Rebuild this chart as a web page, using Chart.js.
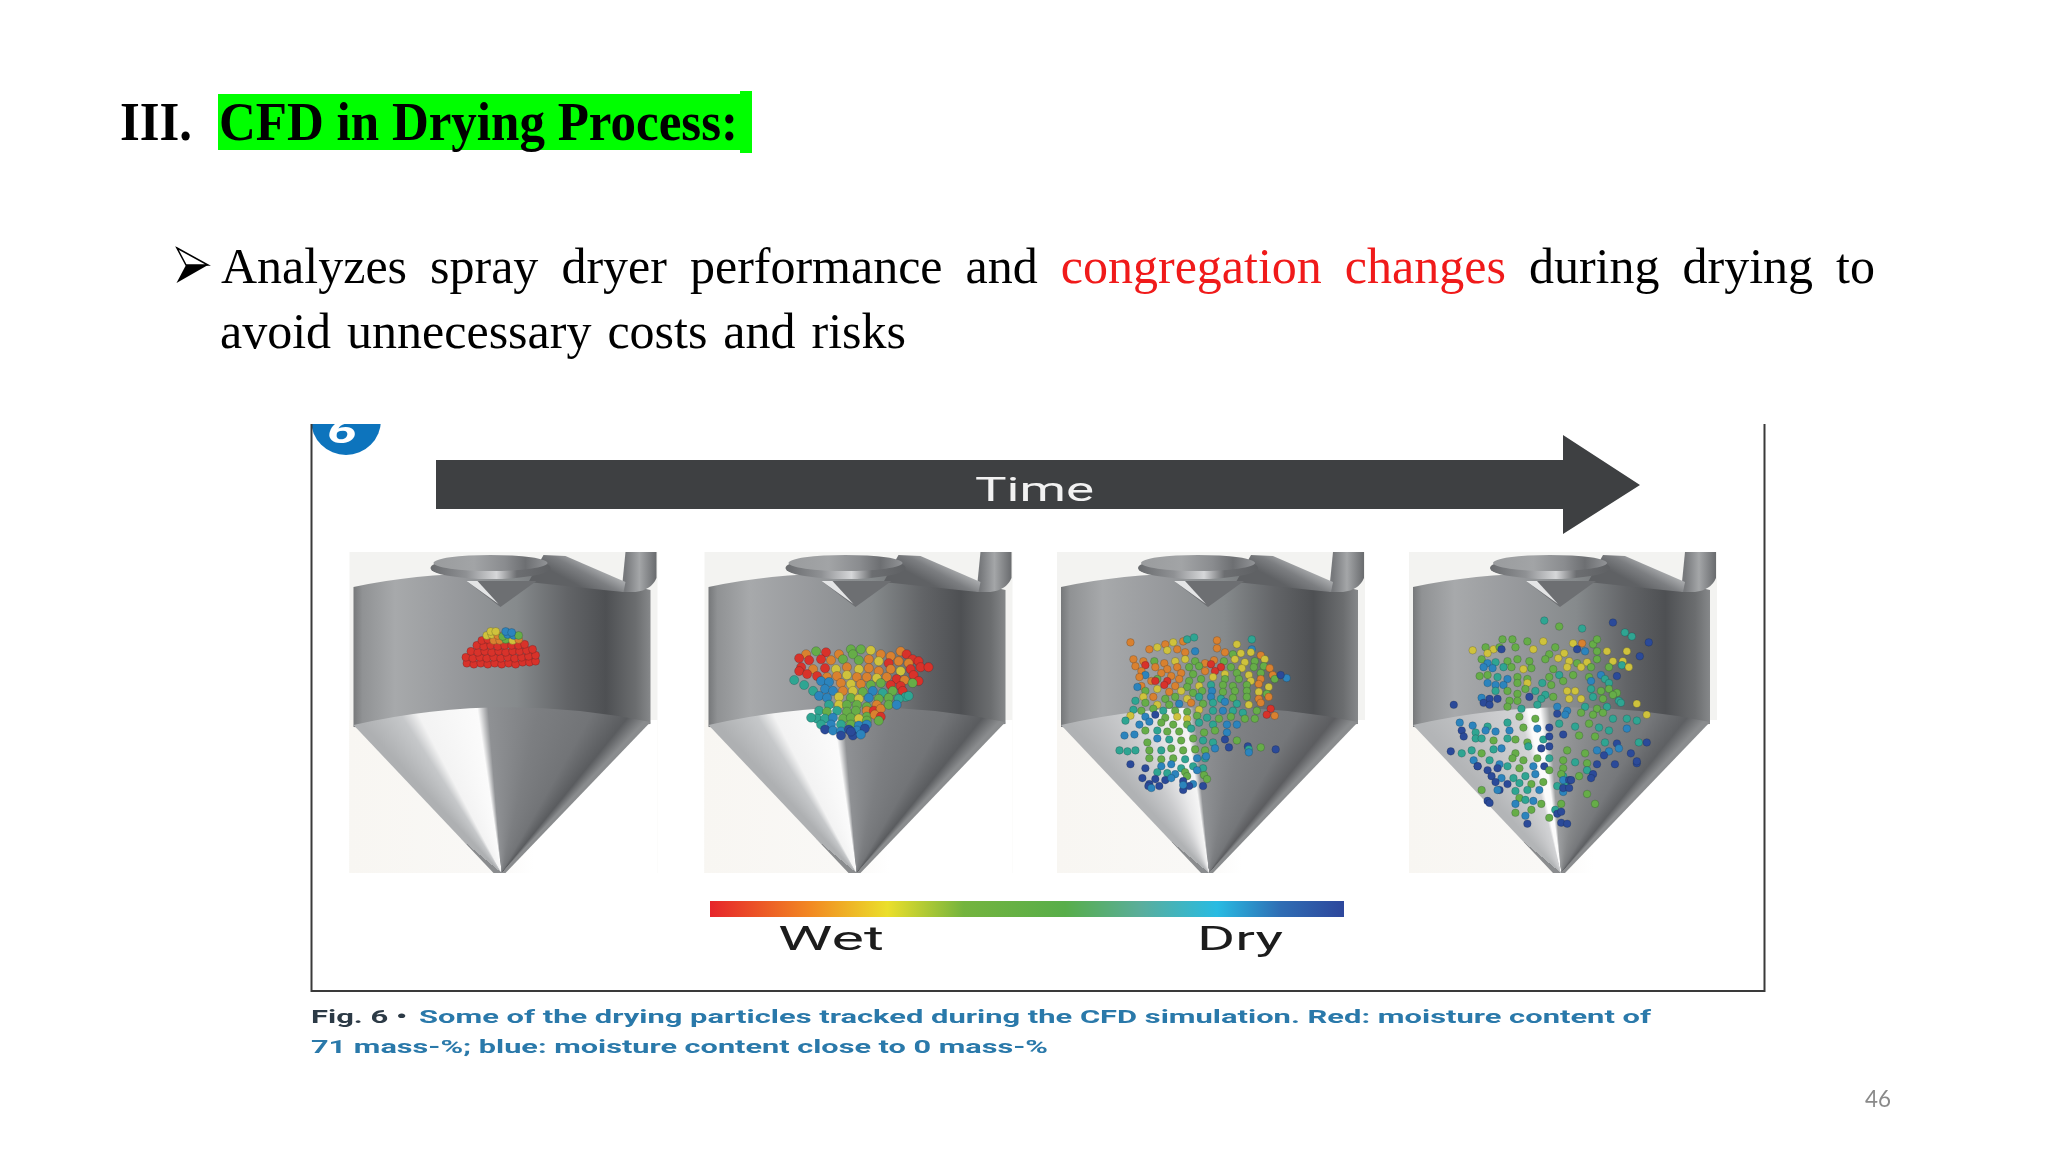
<!DOCTYPE html>
<html>
<head>
<meta charset="utf-8">
<title>CFD in Drying Process</title>
<script src="https://cdn.jsdelivr.net/npm/chart.js@4/dist/chart.umd.js"></script>
<style>
  html, body { margin: 0; padding: 0; background: #fff; }
  canvas { display: block; }
</style>
</head>
<body>
<canvas id="slide" width="2048" height="1152"></canvas>
<script>
// moisture classes, wet to dry
const moistureNames = ["red", "orange", "yellow", "green", "teal", "blue", "navy"];
const moistureColors = ["#d8322a", "#d9812f", "#cfc23c", "#66ad48", "#2fa592", "#2c84bd", "#2b4a99"];

// particles: [x, y, moisture class]
const particlesFirst = [
  [464,664,0],[471,665,0],[478,664,0],[485,665,0],[492,664,0],[499,665,0],[506,664,0],[513,665,0],[520,663,0],[527,663,0],[533,662,0],
  [463,658,0],[470,659,0],[477,658,0],[484,659,0],[491,658,0],[498,659,0],[505,658,0],[512,659,0],[519,658,0],[526,657,0],[533,656,0],
  [468,652,0],[475,653,0],[482,652,0],[489,653,0],[496,652,0],[503,653,0],[510,652,0],[517,652,0],[524,651,0],[530,650,0],
  [474,646,0],[481,647,0],[488,646,0],[495,647,0],[502,646,0],[509,646,0],[516,646,0],[522,645,0],
  [479,641,0],[485,640,0],[491,641,1],[497,641,1],[503,640,3],[510,641,2],[516,640,1],
  [484,636,2],[489,635,2],[495,636,1],[500,637,3],[505,635,5],[511,636,5],[516,636,3],
  [488,632,2],[493,632,2],[503,632,5],[509,633,5]
];
const particlesSecond = [
  [805,655,1],[815,652,3],[825,653,0],[838,655,1],[850,650,3],[860,650,3],[870,651,2],[880,655,1],[890,657,1],[900,652,1],[906,655,0],[912,660,0],
  [798,659,0],[808,661,0],[820,660,0],[830,661,1],[842,660,3],[852,655,3],[858,661,3],[868,660,1],[878,662,2],[888,664,0],[898,662,1],[908,664,1],[918,662,0],
  [800,668,0],[812,670,1],[824,669,0],[835,670,2],[846,668,1],[858,670,2],[868,669,1],[878,672,1],[890,670,1],[900,672,2],[910,670,0],[920,668,0],[928,668,0],[913,676,0],
  [798,672,0],[806,675,0],[816,677,0],[826,678,1],[836,677,1],[846,676,2],[856,678,1],[866,678,1],[876,679,2],[886,678,1],[896,680,0],[904,681,1],[918,682,0],
  [820,682,5],[828,683,5],[840,684,1],[850,685,2],[860,685,1],[870,686,3],[880,684,3],[890,686,0],[900,687,0],[912,684,3],
  [793,681,4],[803,686,4],[812,692,4],[824,690,5],[832,692,5],[842,692,1],[852,692,2],[862,693,3],[872,692,5],[882,694,4],[892,692,3],[902,692,0],[905,698,4],
  [818,697,5],[826,699,5],[838,698,2],[850,699,3],[858,700,2],[868,699,5],[878,700,3],[888,699,3],[898,700,4],[908,697,4],
  [828,706,4],[838,706,2],[846,706,3],[856,706,3],[866,708,3],[876,706,1],[866,712,1],[873,712,0],[880,710,1],[888,706,3],[896,706,5],
  [818,712,4],[826,713,3],[836,712,4],[846,713,3],[855,712,3],[866,718,3],[874,716,1],[880,718,0],
  [816,720,4],[824,720,4],[832,719,5],[842,720,3],[850,719,3],[858,720,2],[866,722,3],[878,722,3],
  [810,719,4],[820,726,4],[830,726,5],[840,726,4],[850,726,3],[858,727,5],[866,726,5],
  [824,731,6],[832,732,5],[840,733,5],[848,731,6],[856,732,5],[864,730,6],[840,737,6],[852,737,6],[860,736,5],[850,733,6]
];
const particlesThird = [
  [1131,643,1],[1166,645,1],[1174,643,2],[1184,642,1],[1188,640,4],[1195,638,4],[1218,641,1],[1238,645,2],[1253,640,4],[1253,650,5],
  [1150,650,1],[1158,648,2],[1168,651,2],[1178,650,1],[1186,653,1],[1218,649,1],[1226,653,1],[1234,655,3],[1242,654,2],[1252,653,2],[1262,656,1],[1196,652,5],
  [1134,660,1],[1144,662,1],[1155,662,3],[1165,664,1],[1176,662,2],[1186,660,2],[1196,662,3],[1206,664,1],[1215,661,1],[1225,662,3],[1236,660,2],[1246,663,2],[1256,662,3],[1266,660,2],
  [1136,667,1],[1146,666,0],[1156,668,1],[1168,670,1],[1178,668,1],[1190,668,3],[1200,667,3],[1212,665,0],[1222,668,0],[1232,668,3],[1243,669,2],[1255,668,3],[1265,667,3],[1271,669,1],
  [1142,672,1],[1146,676,5],[1162,674,1],[1172,677,1],[1182,674,1],[1194,675,3],[1206,672,1],[1216,672,0],[1226,675,2],[1238,674,3],[1250,676,2],[1262,674,3],[1274,676,1],
  [1140,678,1],[1158,680,3],[1168,682,0],[1180,680,1],[1190,682,3],[1202,680,3],[1214,678,2],[1226,680,3],[1240,680,3],[1252,682,2],[1262,680,1],[1276,680,3],[1288,679,5],[1282,676,6],
  [1142,687,1],[1152,682,1],[1156,682,0],[1165,686,0],[1176,687,1],[1188,688,3],[1200,687,2],[1212,686,4],[1224,686,3],[1234,687,3],[1248,686,3],[1260,685,1],[1270,688,2],
  [1138,688,5],[1146,692,3],[1158,690,2],[1170,693,1],[1182,692,2],[1194,694,3],[1203,692,3],[1213,692,5],[1224,693,3],[1236,692,3],[1248,692,3],[1260,693,2],[1268,695,3],
  [1144,698,2],[1154,698,1],[1166,700,3],[1176,698,3],[1188,700,2],[1200,698,4],[1212,698,5],[1222,700,4],[1234,699,3],[1248,698,3],[1260,700,1],[1270,698,1],
  [1136,702,4],[1146,704,3],[1158,706,2],[1170,706,3],[1180,705,5],[1192,704,1],[1204,705,3],[1214,704,4],[1226,703,5],[1238,705,4],[1250,706,2],[1262,704,1],[1272,710,0],
  [1134,711,4],[1142,712,3],[1154,710,3],[1164,712,4],[1176,712,3],[1188,713,3],[1200,711,2],[1214,712,4],[1224,712,5],[1234,712,4],[1244,714,4],[1258,712,3],[1268,716,0],[1276,717,1],
  [1131,717,2],[1146,718,5],[1156,716,6],[1166,719,3],[1178,718,2],[1188,720,2],[1198,717,3],[1208,719,4],[1220,720,3],[1232,718,3],[1246,720,3],[1256,720,3],
  [1126,722,4],[1140,726,5],[1150,723,5],[1162,724,3],[1174,726,3],[1188,726,3],[1200,724,4],[1214,726,4],[1228,726,5],[1238,726,5],
  [1125,737,5],[1135,736,5],[1146,732,3],[1158,732,4],[1168,733,3],[1180,733,3],[1192,730,4],[1205,734,3],[1216,732,3],[1228,734,5],
  [1158,740,5],[1148,744,3],[1170,741,4],[1182,742,3],[1194,740,3],[1204,742,4],[1214,744,4],[1226,741,6],[1238,742,3],[1249,748,6],
  [1120,752,4],[1128,753,4],[1136,752,4],[1150,752,3],[1162,752,4],[1172,750,3],[1184,752,3],[1196,751,3],[1206,752,3],[1216,750,5],[1206,760,4],[1250,751,4],[1262,749,3],[1250,754,5],
  [1150,760,3],[1162,761,3],[1174,760,3],[1186,761,4],[1198,760,5],[1207,758,5],[1230,749,6],[1277,751,6],
  [1131,766,6],[1146,770,6],[1162,768,5],[1172,766,5],[1182,770,4],[1194,768,4],[1204,770,4],
  [1158,774,4],[1168,775,4],[1176,776,5],[1186,774,3],[1198,772,5],[1205,777,3],[1188,778,3],
  [1143,780,6],[1150,786,6],[1156,781,6],[1166,782,6],[1172,780,5],[1184,783,6],[1194,786,5],[1208,781,3],[1184,792,6],[1190,788,6],[1184,787,5],
  [1149,788,6],[1152,790,5],[1160,788,6],[1204,788,6]
];
const particlesFourth = [
  [1547,621,4],[1562,627,3],[1585,629,4],[1616,623,6],[1628,633,4],[1635,637,4],[1652,643,6],[1643,657,6],
  [1475,651,2],[1488,648,3],[1496,650,2],[1505,640,3],[1515,640,3],[1530,642,3],[1546,642,2],[1558,648,3],[1576,644,2],[1585,644,1],[1596,645,3],[1600,640,3],
  [1490,654,2],[1502,648,3],[1504,650,6],[1518,648,3],[1536,650,2],[1552,655,3],[1567,654,2],[1580,650,6],[1588,652,5],[1600,652,3],[1610,652,2],[1630,652,2],
  [1484,660,3],[1490,664,5],[1498,663,4],[1510,662,3],[1520,660,3],[1532,662,3],[1548,660,3],[1561,659,2],[1572,662,2],[1580,664,3],[1590,663,2],[1600,660,3],[1616,662,2],[1626,662,2],
  [1486,668,5],[1495,669,5],[1506,668,4],[1514,668,3],[1526,670,2],[1534,669,3],[1556,670,3],[1570,668,2],[1584,668,2],[1594,668,3],[1612,668,3],[1625,666,4],[1632,668,2],
  [1482,677,3],[1490,676,3],[1500,678,4],[1510,680,5],[1520,678,3],[1530,680,3],[1552,678,3],[1562,676,4],[1576,676,3],[1592,678,3],[1604,676,5],[1620,677,6],
  [1490,684,5],[1498,686,5],[1506,686,5],[1520,684,3],[1530,684,2],[1545,684,4],[1554,686,3],[1566,682,3],[1594,682,5],[1608,680,4],[1612,684,4],
  [1498,692,4],[1510,692,3],[1520,695,3],[1528,690,3],[1538,692,4],[1548,696,4],[1570,692,2],[1578,692,2],[1594,690,4],[1604,692,3],[1612,690,3],[1620,694,3],
  [1484,699,5],[1492,700,6],[1500,700,6],[1512,702,3],[1520,702,3],[1532,698,6],[1544,700,4],[1556,698,3],[1572,700,2],[1584,700,2],[1596,698,4],[1606,700,3],[1616,696,3],[1622,702,4],
  [1456,706,6],[1486,704,6],[1492,706,6],[1510,708,3],[1524,710,4],[1540,706,4],[1560,708,5],[1570,712,5],[1588,708,4],[1600,710,3],[1610,708,4],[1624,704,4],[1640,705,2],
  [1462,724,5],[1475,727,5],[1490,728,4],[1510,724,4],[1522,718,3],[1538,720,3],[1560,715,6],[1568,716,5],[1584,714,3],[1596,716,3],[1606,714,3],[1616,720,4],[1630,720,4],[1640,722,4],[1650,716,2],
  [1464,732,6],[1478,734,4],[1488,732,5],[1498,733,5],[1512,732,5],[1526,729,3],[1540,730,5],[1552,729,6],[1562,725,4],[1578,728,4],[1592,725,3],[1602,729,4],[1612,732,4],[1630,730,5],
  [1466,738,6],[1478,740,4],[1484,740,4],[1496,742,3],[1510,740,4],[1518,741,3],[1530,744,3],[1546,741,4],[1552,738,6],[1566,736,6],[1582,737,3],[1598,738,3],[1608,744,4],[1620,745,6],[1642,744,4],[1650,744,6],
  [1453,753,6],[1464,755,4],[1474,752,4],[1484,755,3],[1496,751,4],[1504,750,5],[1518,755,3],[1531,748,4],[1544,750,6],[1552,748,6],[1570,752,3],[1588,755,3],[1600,752,5],[1612,753,5],[1622,750,5],
  [1476,762,5],[1480,768,6],[1492,762,4],[1502,766,5],[1515,760,3],[1526,762,3],[1540,760,3],[1552,760,4],[1566,762,3],[1578,764,4],[1590,765,3],[1607,757,6],[1618,766,6],[1634,755,6],[1640,765,6],
  [1480,768,6],[1490,772,6],[1500,770,6],[1510,768,4],[1522,770,3],[1536,768,5],[1547,768,6],[1566,770,3],[1590,772,4],[1600,766,6],[1640,763,6],
  [1494,778,6],[1504,780,5],[1516,780,4],[1528,778,4],[1538,776,5],[1552,772,3],[1566,778,4],[1582,778,3],[1596,776,6],[1564,776,3],
  [1498,784,6],[1510,786,6],[1522,785,4],[1534,786,3],[1546,784,3],[1560,788,4],[1568,786,4],[1566,782,5],[1594,780,6],[1572,782,6],
  [1484,792,3],[1502,792,6],[1518,793,4],[1530,792,4],[1542,792,5],[1566,794,5],[1574,782,6],[1566,790,6],[1572,790,6],[1590,796,3],
  [1500,792,5],[1522,800,3],[1518,806,5],[1528,802,4],[1536,803,5],[1490,803,6],[1544,806,3],[1558,812,4],[1564,806,3],[1598,806,3],
  [1492,805,6],[1534,812,3],[1528,818,5],[1518,815,3],[1530,826,6],[1560,816,6],[1564,814,6],[1564,825,6],[1570,826,6],[1552,820,3]
];

// wet to dry scale under the dryers
const scaleColors = ["#e6252b", "#f28a22", "#ebdf2b", "#74b43e", "#58ae4a", "#5aae9c", "#28bbe2", "#2f6db4", "#2e479c"];
const scaleStops = [0, 0.16, 0.28, 0.4, 0.56, 0.68, 0.8, 0.9, 1];

// slide text
const headingNumber = "III.";
const headingText = "CFD in Drying Process:";
const bulletFirstLine = [
  ["Analyzes", "black"], ["spray", "black"], ["dryer", "black"], ["performance", "black"], ["and", "black"],
  ["congregation", "#f01a1a"], ["changes", "#f01a1a"],
  ["during", "black"], ["drying", "black"], ["to", "black"]
];
const bulletSecondLine = [
  ["avoid", "black"], ["unnecessary", "black"], ["costs", "black"], ["and", "black"], ["risks", "black"]
];
const captionLead = "Fig. 6 \u2022";
const captionFirstLine = "Some of the drying particles tracked during the CFD simulation. Red: moisture content of";
const captionSecondLine = "71 mass-%; blue: moisture content close to 0 mass-%";
const pageNumber = "46";

function fitText(ctx, str, x, baseline, font, color, width) {
  ctx.save();
  ctx.font = font;
  ctx.fillStyle = color;
  ctx.textBaseline = "alphabetic";
  let natural = ctx.measureText(str).width;
  ctx.translate(x, baseline);
  ctx.scale(width / natural, 1);
  ctx.fillText(str, 0, 0);
  ctx.restore();
}

function justifiedLine(ctx, words, x, baseline, font, right) {
  ctx.save();
  ctx.font = font;
  ctx.textBaseline = "alphabetic";
  let total = 0;
  words.forEach(w => { total += ctx.measureText(w[0]).width; });
  let gap = (right - x - total) / (words.length - 1);
  let pos = x;
  words.forEach(w => {
    ctx.fillStyle = w[1];
    ctx.fillText(w[0], pos, baseline);
    pos += ctx.measureText(w[0]).width + gap;
  });
  ctx.restore();
}

function addStops(grad, stops) {
  stops.forEach(s => grad.addColorStop(s[0], s[1]));
}

function drawDryer(ctx, left, wedge) {
  let apexX = left + 148, apexY = 873, right = left + 297;

  // pale backdrop of the photo
  ctx.fillStyle = "#f3f3f1";
  ctx.fillRect(left - 4, 552, 308, 321);
  let low = ctx.createLinearGradient(left - 4, 0, left + 304, 0);
  addStops(low, [[0, "#f8f6f2"], [0.45, "#f9f8f6"], [0.6, "#ffffff"], [1, "#ffffff"]]);
  ctx.fillStyle = low;
  ctx.fillRect(left - 4, 720, 308, 153);

  // cylinder
  let body = ctx.createLinearGradient(left, 0, right, 0);
  addStops(body, [[0, "#76787a"], [0.03, "#909294"], [0.14, "#a7a9ab"], [0.35, "#97999c"], [0.55, "#868a8c"],
    [0.72, "#626467"], [0.85, "#4e5053"], [0.95, "#6b6d6f"], [1, "#86888a"]]);
  ctx.fillStyle = body;
  ctx.beginPath();
  ctx.moveTo(left, 587);
  ctx.quadraticCurveTo(left + 70, 572, left + 148, 574);
  ctx.quadraticCurveTo(left + 240, 576, right, 590);
  ctx.lineTo(right, 724);
  ctx.lineTo(left + 148, 735);
  ctx.lineTo(left, 727);
  ctx.closePath();
  ctx.fill();

  // cone, shaded around its tip
  let start = -140 * Math.PI / 180;
  let cone = ctx.createConicGradient(start, apexX, apexY);
  let atU = u => {
    let a = Math.atan2(715 - apexY, left + u * 297 - apexX) - start;
    return a / (2 * Math.PI);
  };
  addStops(cone, wedge.map(s => [atU(s[0]), s[1]]));
  ctx.fillStyle = cone;
  ctx.beginPath();
  ctx.moveTo(left, 725);
  ctx.quadraticCurveTo(left + 148, 691, right, 722);
  ctx.lineTo(apexX + 4, apexY);
  ctx.lineTo(apexX - 8, apexY);
  ctx.closePath();
  ctx.fill();

  // feed pipe
  let pipe = ctx.createLinearGradient(left + 272, 0, left + 303, 0);
  addStops(pipe, [[0, "#77797c"], [0.45, "#a4a6a8"], [1, "#696b6e"]]);
  ctx.fillStyle = pipe;
  ctx.beginPath();
  ctx.moveTo(left + 272, 552);
  ctx.lineTo(left + 303, 552);
  ctx.lineTo(left + 303, 578);
  ctx.quadraticCurveTo(left + 298, 590, left + 282, 592);
  ctx.lineTo(left + 268, 592);
  ctx.closePath();
  ctx.fill();
  let slant = ctx.createLinearGradient(left + 235, 560, left + 222, 584);
  addStops(slant, [[0, "#b2b4b6"], [0.5, "#7c7e81"], [1, "#5f6164"]]);
  ctx.fillStyle = slant;
  ctx.beginPath();
  ctx.moveTo(left + 190, 555);
  ctx.lineTo(left + 212, 556);
  ctx.lineTo(left + 272, 582);
  ctx.lineTo(left + 270, 592);
  ctx.lineTo(left + 250, 590);
  ctx.lineTo(left + 175, 582);
  ctx.closePath();
  ctx.fill();

  // cyclone disc, rim then top
  let rim = ctx.createLinearGradient(left + 77, 0, left + 197, 0);
  addStops(rim, [[0, "#696b6e"], [0.3, "#8f9194"], [0.55, "#d6d7d9"], [0.72, "#6c6e71"], [1, "#5f6164"]]);
  ctx.fillStyle = rim;
  ctx.beginPath();
  ctx.ellipse(left + 137, 568, 60, 11, 0, 0, Math.PI * 2);
  ctx.fill();
  let disc = ctx.createLinearGradient(left + 80, 0, left + 195, 0);
  addStops(disc, [[0, "#9a9c9e"], [0.35, "#a2a4a6"], [0.62, "#8a8c8f"], [0.8, "#6d6f72"], [1, "#939598"]]);
  ctx.fillStyle = disc;
  ctx.beginPath();
  ctx.ellipse(left + 137, 563, 57, 8, 0, 0, Math.PI * 2);
  ctx.fill();

  // nozzle
  ctx.fillStyle = "#6d6f72";
  ctx.beginPath();
  ctx.moveTo(left + 113, 581);
  ctx.lineTo(left + 183, 581);
  ctx.lineTo(left + 147, 607);
  ctx.closePath();
  ctx.fill();
  ctx.fillStyle = "#e4e5e6";
  ctx.beginPath();
  ctx.moveTo(left + 113, 581);
  ctx.lineTo(left + 124, 581);
  ctx.lineTo(left + 145, 604);
  ctx.closePath();
  ctx.fill();
}

const brightWedge = [[0, "#aeb0b2"], [0.16, "#c6c8ca"], [0.22, "#f3f3f3"], [0.42, "#fbfbfb"], [0.455, "#8f9194"],
  [0.62, "#7c7e81"], [0.8, "#727477"], [0.93, "#5a5c5f"], [1, "#8a8c8e"]];
const dullWedge = [[0, "#b0b2b4"], [0.2, "#c9cacc"], [0.34, "#e8e8e9"], [0.42, "#f5f5f5"], [0.45, "#909295"],
  [0.62, "#7e8083"], [0.8, "#747679"], [0.93, "#5c5d60"], [1, "#8a8c8e"]];
const spikeWedge = [[0, "#b3b5b7"], [0.25, "#c8c9cb"], [0.36, "#d2d3d5"], [0.39, "#fbfbfb"], [0.43, "#fbfbfb"], [0.46, "#9c9ea0"],
  [0.62, "#858789"], [0.8, "#76787b"], [0.93, "#5e6063"], [1, "#8a8c8e"]];

const slidePlugin = {
  id: "slide",
  beforeDatasetsDraw(chart) {
    let ctx = chart.ctx;
    ctx.save();

    // heading
    ctx.fillStyle = "#00ff00";
    ctx.fillRect(218, 94, 534, 56);
    ctx.fillRect(740, 91, 12, 62);
    fitText(ctx, headingNumber, 120, 140, "bold 54px 'Liberation Serif'", "#000", 72);
    fitText(ctx, headingText, 219, 140, "bold 54px 'Liberation Serif'", "#000", 519);

    // bullet arrowhead, outlined top and solid bottom half
    ctx.fillStyle = "#000";
    ctx.beginPath();
    ctx.moveTo(176.5, 283);
    ctx.lineTo(208, 265);
    ctx.lineTo(186, 265);
    ctx.closePath();
    ctx.fill();
    ctx.fillStyle = "#fff";
    ctx.strokeStyle = "#000";
    ctx.lineWidth = 1.5;
    ctx.beginPath();
    ctx.moveTo(177, 248);
    ctx.lineTo(208, 265);
    ctx.lineTo(186, 265);
    ctx.closePath();
    ctx.fill();
    ctx.stroke();

    justifiedLine(ctx, bulletFirstLine, 221, 283, "50px 'Liberation Serif'", 1875);
    justifiedLine(ctx, bulletSecondLine, 220, 348, "50px 'Liberation Serif'", 906);

    // page number
    fitText(ctx, pageNumber, 1865, 1107, "24px Lato", "#8a8a8a", 26);

    // the photo is soft, so the figure is drawn slightly blurred
    ctx.filter = "blur(0.7px)";

    // blue badge
    ctx.save();
    ctx.beginPath();
    ctx.rect(300, 424, 100, 40);
    ctx.clip();
    ctx.fillStyle = "#0d74bd";
    ctx.beginPath();
    ctx.ellipse(346, 420, 35, 35, 0, 0, Math.PI * 2);
    ctx.fill();
    fitText(ctx, "6", 327, 443, "italic bold 34px Roboto", "#fff", 30);
    ctx.restore();

    // frame, open at the top
    ctx.strokeStyle = "#3a3a3a";
    ctx.lineWidth = 2;
    ctx.beginPath();
    ctx.moveTo(311.5, 424);
    ctx.lineTo(311.5, 991);
    ctx.lineTo(1764.5, 991);
    ctx.lineTo(1764.5, 424);
    ctx.stroke();

    // time arrow
    ctx.fillStyle = "#3e4042";
    ctx.beginPath();
    ctx.moveTo(436, 460);
    ctx.lineTo(1563, 460);
    ctx.lineTo(1563, 435);
    ctx.lineTo(1640, 485);
    ctx.lineTo(1563, 534);
    ctx.lineTo(1563, 509);
    ctx.lineTo(436, 509);
    ctx.closePath();
    ctx.fill();
    fitText(ctx, "Time", 975, 501, "34px Roboto", "#f2f2f2", 119);

    // dryers
    drawDryer(ctx, 353.5, brightWedge);
    drawDryer(ctx, 708.5, brightWedge);
    drawDryer(ctx, 1061, dullWedge);
    drawDryer(ctx, 1413, spikeWedge);

    // colour scale
    let bar = ctx.createLinearGradient(710, 0, 1344, 0);
    scaleColors.forEach((c, i) => bar.addColorStop(scaleStops[i], c));
    ctx.fillStyle = bar;
    ctx.fillRect(710, 901, 634, 16);
    fitText(ctx, "Wet", 778, 950, "34px Roboto", "#1c1c1c", 106);
    fitText(ctx, "Dry", 1197, 950, "34px Roboto", "#1c1c1c", 86);

    // caption
    fitText(ctx, captionLead, 311, 1023, "bold 19px Roboto", "#2c3a46", 96);
    fitText(ctx, captionFirstLine, 419, 1023, "bold 19px Roboto", "#2a79aa", 1232);
    fitText(ctx, captionSecondLine, 311, 1053, "bold 19px Roboto", "#2a79aa", 737);

    ctx.restore();
    ctx.save();
    ctx.filter = "blur(0.6px)";
  },
  afterDatasetsDraw(chart) {
    chart.ctx.restore();
  }
};

function particleSet(name, rows, size) {
  return {
    label: name,
    data: rows.map(r => ({ x: r[0], y: r[1] })),
    pointBackgroundColor: rows.map(r => moistureColors[r[2]]),
    pointBorderColor: "rgba(20,30,40,0.3)",
    pointBorderWidth: 0.7,
    pointRadius: size
  };
}

const slide = new Chart(document.getElementById("slide").getContext("2d"), {
  type: "scatter",
  data: {
    datasets: [
      particleSet("first", particlesFirst, 4),
      particleSet("second", particlesSecond, 4.6),
      particleSet("third", particlesThird, 3.8),
      particleSet("fourth", particlesFourth, 3.8)
    ]
  },
  options: {
    responsive: false,
    animation: false,
    devicePixelRatio: 1,
    layout: { padding: 0 },
    plugins: { legend: { display: false }, tooltip: { enabled: false } },
    scales: {
      x: { type: "linear", min: 0, max: 2048, display: false },
      y: { type: "linear", min: 0, max: 1152, reverse: true, display: false }
    }
  },
  plugins: [slidePlugin]
});
</script>
</body>
</html>
